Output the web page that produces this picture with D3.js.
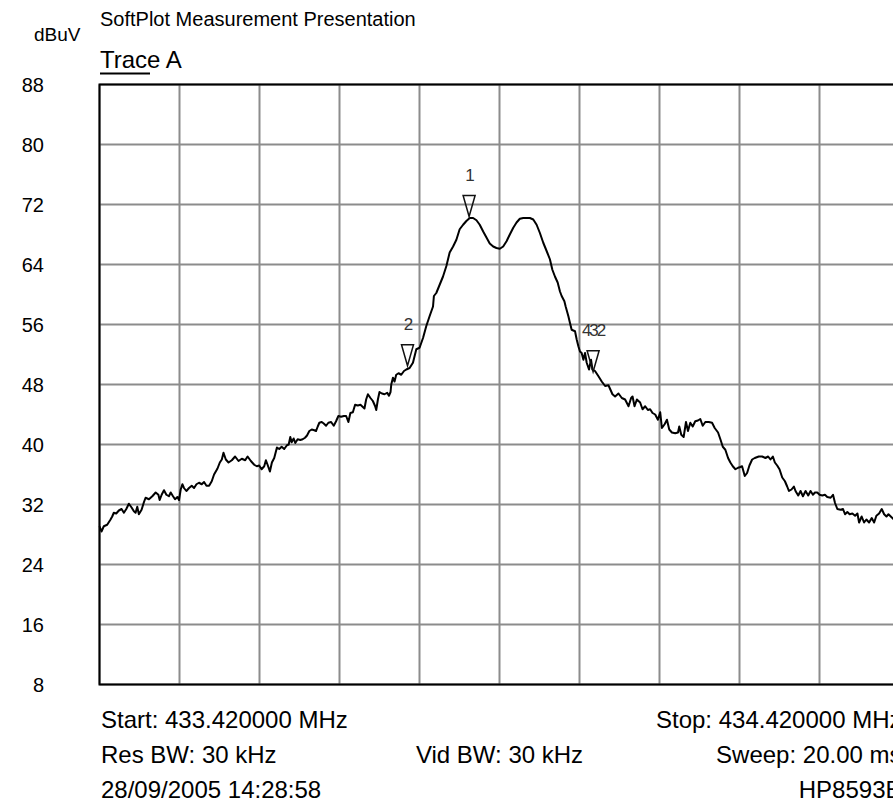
<!DOCTYPE html>
<html>
<head>
<meta charset="utf-8">
<script src="https://cdn.jsdelivr.net/npm/d3@7"></script>
<style>
    html, body { margin: 0; padding: 0; background: #fff; overflow: hidden; }
    svg { display: block; font-family: "Liberation Sans", Arial, Helvetica, sans-serif; }
</style>
</head>
<body>
<svg width="893" height="803"></svg>
<script>
const width = 893;
const height = 803;

const plot = { left: 99.5, top: 84.5, width: 800, height: 600 };

// trace A: frequency offset from start (kHz) and level (dBuV)
const traceKHz = [0, 2.5, 5.4, 9.6, 13.8, 15.9, 17.9, 20.9, 24.2, 27.6, 30.5, 33.5, 36.7, 40.1, 43.0, 45.1, 47.2, 49.2, 52.6, 55.5, 57.6, 61.8, 66.0, 70.2, 73.6, 75.2, 77.7, 80.6, 83.6, 86.8, 89.0, 91.9, 94.4, 97.4, 99.4, 101.5, 103.6, 105.6, 108.6, 111.9, 115.3, 118.2, 121.2, 124.4, 127.8, 130.7, 133.7, 137.0, 140.3, 143.2, 147.5, 150.4, 152.9, 155.0, 157.9, 161.3, 165.4, 169.5, 173.8, 177.9, 182.1, 185.1,
    189.2, 193.4, 196.7, 199.6, 202.6, 205.9, 208.0, 210.1, 213.0, 215.5, 218.4, 221.8, 224.7, 227.7, 230.9, 234.3, 236.5, 238.5, 240.2, 242.7, 244.7, 247.7, 251.0, 254.0, 256.9, 259.4, 262.3, 265.3, 268.5, 270.7, 272.8, 274.8, 277.8, 280.3, 283.2, 286.1, 289.5, 292.8, 295.7, 298.6, 302.0, 305.4, 308.3, 311.1, 313.6, 316.7, 319.5, 322.9, 326.2, 329.2, 331.2, 333.3, 335.5, 338.7, 341.7, 344.6, 345.9, 348.0, 350.0, 353.0, 356.3, 359.6, 361.8, 363.8, 364.7, 366.8, 368.8, 370.9, 373.8, 377.2, 380.6, 383.5,
    387.6, 391.8, 396.0, 400.1, 404.4, 408.5, 412.6, 416.9, 418.0, 421.0, 425.2, 429.4, 433.6, 437.7, 442.0, 446.1, 450.2, 454.5, 458.6, 462.8, 467.0, 471.2, 475.3, 479.6, 483.7, 487.8, 492.1, 496.2, 500.4, 504.6, 508.8, 512.9, 517.2, 521.3, 525.4, 529.7, 533.8, 538.0, 542.2, 546.4, 550.5, 554.7, 558.9, 563.0, 566.1, 569.3, 572.7, 575.6, 577.7, 581.1, 582.7, 586.1, 588.1, 590.2, 594.4, 596.5, 598.6, 600.6, 602.7, 604.9, 606.9, 609.0, 611.9, 614.4, 616.2, 619.4, 623.7, 627.8, 632.0, 636.2,
    641.2, 644.5, 648.7, 652.9, 657.0, 661.3, 664.5, 666.3, 668.8, 671.7, 675.8, 678.8, 682.1, 685.5, 688.3, 691.3, 694.6, 698.0, 700.9, 703.0, 706.4, 709.3, 712.2, 715.5, 719.7, 723.1, 724.7, 727.2, 730.2, 733.1, 735.6, 738.5, 741.5, 744.7, 748.1, 751.0, 754.0, 757.3, 761.5, 765.7, 769.0, 773.2, 776.1, 779.1, 782.3, 785.7, 788.6, 791.6, 794.9, 798.2, 801.1, 803.2, 806.6, 809.5, 812.4, 815.8, 819.1, 824.1, 828.3, 832.4, 835.8, 838.7, 841.7, 844.2, 847.1, 850.0, 853.4, 856.8, 859.6, 861.8, 865.0, 868.0, 870.0, 873.4, 876.3, 879.3, 882.6, 885.9, 888.8, 891.8, 894.3, 897.2, 900.1, 903.5, 906.8, 909.7, 913.9, 916.9, 919.4, 922.3, 926.4, 929.4, 931.9, 934.8, 937.7, 941.1, 944.5, 947.4, 949.5, 952.7, 955.7, 958.6, 962.0, 965.3, 968.3, 971.1, 974.5, 977.8, 980.8, 983.7, 986.2, 989.1, 992.1, 995.0, 1000];

const traceDb = [29.1, 28.4, 29.1, 29.3, 30.0, 30.4, 30.9, 30.8, 31.2, 31.4, 30.9, 31.4, 32.1, 31.6, 31.1, 30.9, 31.7, 30.7, 31.3, 32.3, 32.9, 32.7, 33.1, 33.6, 33.3, 32.6, 33.3, 33.9, 33.3, 33.1, 33.6, 33.1, 32.7, 33.0, 32.6, 34.0, 34.7, 34.2, 33.8, 34.2, 34.5, 34.2, 34.7, 34.9, 34.7, 35.0, 34.5, 34.5, 35.1, 36.0, 36.8, 37.6, 38.0, 38.9, 38.0, 37.6, 37.9, 38.4, 37.8, 38.1, 37.9, 38.4,
    37.8, 37.3, 37.1, 37.2, 36.7, 37.1, 37.9, 37.3, 36.4, 37.6, 38.2, 39.6, 39.4, 39.7, 39.4, 39.9, 40.0, 41.0, 40.3, 40.8, 40.2, 40.7, 40.6, 40.7, 40.9, 41.2, 41.8, 42.0, 41.9, 41.8, 42.4, 42.9, 43.0, 42.8, 42.5, 42.9, 43.0, 42.5, 43.1, 43.8, 43.7, 43.8, 43.8, 43.0, 44.2, 44.3, 45.3, 45.2, 45.3, 45.0, 44.8, 46.0, 46.7, 46.2, 45.8, 45.1, 44.6, 46.0, 47.0, 46.8, 46.7, 46.9, 46.5, 47.0, 48.0, 48.9, 48.4, 49.3, 49.5, 49.3, 49.8, 50.0,
    50.2, 50.9, 52.7, 52.9, 54.2, 55.8, 57.1, 58.4, 59.8, 60.2, 61.3, 62.4, 63.8, 65.6, 66.4, 67.3, 68.7, 69.3, 69.8, 70.2, 70.2, 69.9, 69.3, 68.4, 67.6, 66.8, 66.4, 66.2, 66.1, 66.4, 67.1, 68.0, 68.9, 69.6, 70.1, 70.2, 70.2, 70.2, 70.0, 69.3, 68.2, 66.9, 65.8, 64.7, 63.3, 62.4, 61.6, 60.4, 59.8, 59.1, 58.4, 57.1, 56.2, 55.3, 55.1, 54.0, 53.1, 52.4, 52.2, 51.3, 52.2, 50.9, 50.0, 51.3, 50.0, 49.8, 49.1, 48.4, 47.8, 47.9,
    46.7, 46.4, 46.8, 46.2, 46.0, 45.1, 46.2, 46.4, 45.1, 46.0, 45.6, 44.7, 45.1, 44.6, 44.7, 44.2, 44.0, 43.3, 44.3, 42.2, 42.7, 43.3, 42.0, 41.6, 41.5, 41.6, 42.4, 41.3, 41.0, 43.0, 41.8, 42.9, 42.4, 43.1, 43.2, 43.4, 42.5, 43.0, 43.0, 42.9, 42.2, 41.6, 40.7, 39.7, 39.3, 38.2, 37.6, 37.1, 36.7, 36.9, 37.0, 37.1, 35.8, 36.2, 37.2, 38.0, 38.2, 38.4, 38.4, 38.2, 38.4, 38.0, 38.4, 37.6, 37.2, 36.7, 35.6, 35.1, 34.4, 33.8, 34.0, 34.4, 33.8, 33.2, 33.8, 33.1, 33.8, 33.2, 33.8, 33.3, 33.6, 33.6, 33.3, 33.2, 33.3, 33.0, 32.9, 33.3, 32.2, 31.4, 31.3, 31.4, 30.7, 31.0, 30.7, 30.8, 30.5, 30.8, 29.6, 30.4, 29.6, 30.0, 29.6, 30.2, 29.6, 30.5, 30.8, 31.4, 30.7, 30.4, 30.7, 30.4, 30.1, 29.6, 29.3];

// y tick labels (dBuV)
const yTicks = [88, 80, 72, 64, 56, 48, 40, 32, 24, 16, 8];

// markers
const markerKHz = [462, 385, 617];
const markerDb = [70.4, 50.5, 49.7];
const markerLabels = ["1", "2", "432"];

// header / footer texts
const titleText = "SoftPlot Measurement Presentation";
const traceName = "Trace A";
const unitText = "dBuV";
const footerLeft = ["Start: 433.420000 MHz", "Res BW: 30 kHz", "28/09/2005 14:28:58"];
const footerCenter = ["", "Vid BW: 30 kHz", ""];
const footerRight = ["Stop: 434.420000 MHz", "Sweep: 20.00 ms", "HP8593E"];

const svg = d3.select("svg");

// x scale (kHz above start frequency)
const xScale = d3.scaleLinear()
    .domain([0, 1000])
    .range([plot.left, plot.left + plot.width]);

// y scale
const yScale = d3.scaleLinear()
    .domain([8, 88])
    .range([plot.top + plot.height, plot.top]);

// grid
const grid = svg.append("g");

grid.selectAll(".vgrid")
    .data(d3.range(0, 1001, 100))
    .join("line")
    .attr("x1", d => xScale(d))
    .attr("x2", d => xScale(d))
    .attr("y1", plot.top)
    .attr("y2", plot.top + plot.height)
    .attr("stroke", "#8c8c8c")
    .attr("stroke-width", 2);

grid.selectAll(".hgrid")
    .data(yTicks)
    .join("line")
    .attr("x1", plot.left)
    .attr("x2", plot.left + plot.width)
    .attr("y1", d => yScale(d))
    .attr("y2", d => yScale(d))
    .attr("stroke", "#8c8c8c")
    .attr("stroke-width", 2);

// frame (top, left, bottom)
svg.append("path")
    .attr("d", `M${plot.left + plot.width},${plot.top}H${plot.left}V${plot.top + plot.height}H${plot.left + plot.width}`)
    .attr("fill", "none")
    .attr("stroke", "#000")
    .attr("stroke-width", 2);

// y axis labels
svg.selectAll(".ylab")
    .data(yTicks)
    .join("text")
    .attr("x", 44)
    .attr("y", d => yScale(d))
    .attr("dy", "0.36em")
    .attr("text-anchor", "end")
    .style("font-size", "20px")
    .text(d => d);

// trace line
const traceData = traceKHz.map((k, i) => ({ k: k, db: traceDb[i] }))
    .filter(d => d.db !== undefined);

const line = d3.line()
    .x(d => xScale(d.k))
    .y(d => yScale(d.db));

svg.append("path")
    .datum(traceData)
    .attr("d", line)
    .attr("fill", "none")
    .attr("stroke", "#000")
    .attr("stroke-width", 2)
    .attr("stroke-linejoin", "round");

// markers
const markers = markerKHz.map((k, i) => ({ k: k, db: markerDb[i], label: markerLabels[i] }));

svg.selectAll(".marker")
    .data(markers)
    .join("path")
    .attr("d", d => {
        const x = xScale(d.k), y = yScale(d.db);
        return `M${x - 6},${y - 21}L${x + 6},${y - 21}L${x},${y}Z`;
    })
    .attr("fill", "none")
    .attr("stroke", "#111")
    .attr("stroke-width", 1.5);

svg.selectAll(".mlabel")
    .data(markers)
    .join("text")
    .attr("x", d => xScale(d.k))
    .attr("y", d => yScale(d.db) - 36)
    .attr("text-anchor", "middle")
    .style("font-size", "17px")
    .style("letter-spacing", "-2px")
    .attr("fill", "#333")
    .text(d => d.label);

// title
svg.append("text")
    .attr("x", 100)
    .attr("y", 26)
    .style("font-size", "20px")
    .text(titleText);

// unit
svg.append("text")
    .attr("x", 34)
    .attr("y", 41)
    .style("font-size", "19px")
    .text(unitText);

// trace legend
svg.append("text")
    .attr("x", 100)
    .attr("y", 68)
    .style("font-size", "24px")
    .text(traceName);

svg.append("line")
    .attr("x1", 100)
    .attr("x2", 150)
    .attr("y1", 73.5)
    .attr("y2", 73.5)
    .attr("stroke", "#000")
    .attr("stroke-width", 2);

// footer
const footerY = [728, 763, 798];

svg.selectAll(".fleft")
    .data(footerLeft)
    .join("text")
    .attr("x", 101)
    .attr("y", (d, i) => footerY[i])
    .style("font-size", "24px")
    .text(d => d);

svg.selectAll(".fcenter")
    .data(footerCenter)
    .join("text")
    .attr("x", xScale(500))
    .attr("y", (d, i) => footerY[i])
    .attr("text-anchor", "middle")
    .style("font-size", "24px")
    .text(d => d);

svg.selectAll(".fright")
    .data(footerRight)
    .join("text")
    .attr("x", plot.left + plot.width + 2)
    .attr("y", (d, i) => footerY[i])
    .attr("text-anchor", "end")
    .style("font-size", "24px")
    .text(d => d);
</script>
</body>
</html>
